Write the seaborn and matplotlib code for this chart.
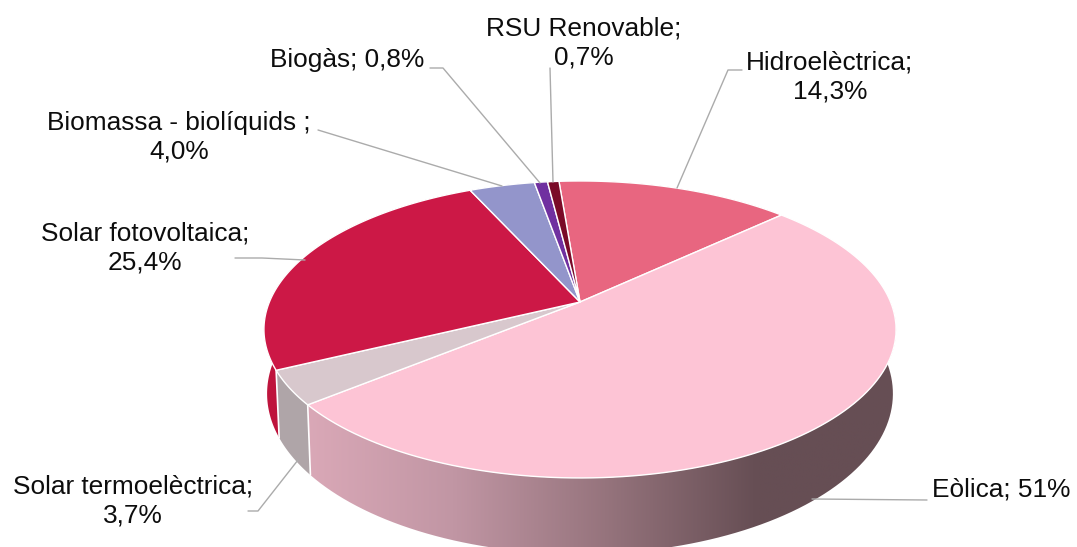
import numpy as np
import seaborn as sns
import matplotlib.pyplot as plt
from matplotlib.patches import Polygon
from matplotlib.colors import LinearSegmentedColormap

sns.set_theme(style="white")
plt.rcParams["font.family"] = ["Liberation Sans", "DejaVu Sans"]

# Dades (%), en sentit horari des de dalt
fonts = ["Hidroelèctrica", "Eòlica", "Solar termoelèctrica", "Solar fotovoltaica",
         "Biomassa - biolíquids", "Biogàs", "RSU Renovable"]
valors = [14.3, 51.0, 3.7, 25.4, 4.0, 0.8, 0.7]
colors = ["#E86680", "#FDC4D5", "#D8C8CD", "#CC1846", "#9395CB", "#7030A0", "#7A0A28"]
colors_lateral = ["#B5505F", None, "#AFA5A8", "#BE143C", "#7375A0", "#552080", "#5A0820"]

# text, x, y, alineació
etiquetes = [
    ("RSU Renovable;\n0,7%", 584, 43, "center"),
    ("Hidroelèctrica;\n14,3%", 830, 77, "center"),
    ("Biogàs; 0,8%", 347, 60, "center"),
    ("Biomassa - biolíquids ;\n4,0%", 179, 137, "center"),
    ("Solar fotovoltaica;\n25,4%", 145, 248, "center"),
    ("Solar termoelèctrica;\n3,7%", 133, 501, "center"),
    ("Eòlica; 51%", 1001, 490, "center"),
]
guies = [
    ([742, 728, 677], [70, 70, 188]),
    ([430, 443, 540], [68, 68, 183]),
    ([550, 553], [68, 182]),
    ([318, 502], [130, 186]),
    ([235, 262, 305], [258, 258, 260]),
    ([248, 258, 298], [511, 511, 460]),
    ([812, 927], [499, 500]),
]

CX, CY = 580, 302
RX, RY, K = 310.6, 143.4, 0.185
GRUIX = 62
INICI = -4.6


def projecta(angle):
    # angle en graus, horari des de dalt; perspectiva del disc superior
    t = np.radians(angle)
    u, v = np.sin(t), np.cos(t)
    w = 1 + K * v
    return CX + RX * u / w, CY - RY * v / w, w


def projecta_baix(angle):
    x, y, w = projecta(angle)
    return CX + (x - CX) * 0.99, y + GRUIX / w


fig, ax = plt.subplots(figsize=(10.77, 5.47), dpi=100)
ax.set_position([0, 0, 1, 1])
ax.axis("off")

vores = INICI + np.cumsum([0] + valors) * 360 / sum(valors)

# Cara lateral
degradat = LinearSegmentedColormap.from_list(
    "lateral", ["#DBA9B8", "#C196A4", "#96747D", "#664E54", "#664E54"])
for i, val in enumerate(valors):
    a = np.linspace(vores[i], vores[i + 1], 120)
    xs, ys, _ = projecta(a)
    xb, yb = projecta_baix(a)
    punts = np.r_[np.c_[xs, ys], np.c_[xb, yb][::-1]]
    if colors_lateral[i] is None:
        p = Polygon(punts, closed=True, fc="none", ec="none")
        ax.add_patch(p)
        im = ax.imshow(np.linspace(0, 1, 256)[None, :], cmap=degradat, aspect="auto",
                       extent=[300, 910, 547, 300], zorder=1)
        im.set_clip_path(p)
    else:
        ax.fill(punts[:, 0], punts[:, 1], color=colors_lateral[i], lw=0, zorder=1)

# Arestes verticals blanques
for v in vores[2:4]:
    x0, y0, _ = projecta(v)
    x1, y1 = projecta_baix(v)
    ax.plot([x0, x1], [y0, y1], color="white", lw=1.2, zorder=2)

# Cara superior
for i, val in enumerate(valors):
    a = np.linspace(vores[i], vores[i + 1], 120)
    xs, ys, _ = projecta(a)
    ax.fill(np.r_[CX, xs], np.r_[CY, ys], facecolor=colors[i], edgecolor="white",
            lw=1, joinstyle="round", zorder=3)

# Guies i etiquetes
for gx, gy in guies:
    ax.plot(gx, gy, color="#ABABAB", lw=1, zorder=4)
for text, x, y, al in etiquetes:
    ax.text(x, y, text, ha=al, va="center", fontsize=18.9, color="#0D0D0D",
            linespacing=1.24, zorder=5)

ax.set_xlim(0, 1077)
ax.set_ylim(547, 0)
fig.savefig("out.png", dpi=100, facecolor="white")
